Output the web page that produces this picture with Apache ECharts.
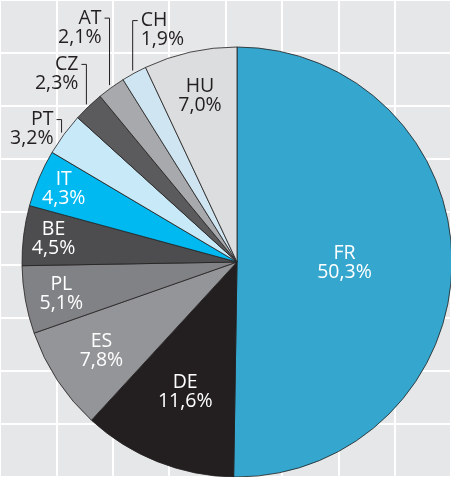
<!DOCTYPE html>
<html>
<head>
<meta charset="utf-8">
<script src="https://cdn.jsdelivr.net/npm/echarts@6/dist/echarts.min.js"></script>
<style>
  html, body { margin: 0; padding: 0; background: #e6e7e8; }
  #chart { width: 451px; height: 477px; }
</style>
</head>
<body>
<div id="chart"></div>
<script>
// Country shares, clockwise from 12 o'clock
const countries = ['FR', 'DE', 'ES', 'PL', 'BE', 'IT', 'PT', 'CZ', 'AT', 'CH', 'HU'];
const shares = [50.3, 11.6, 7.8, 5.1, 4.5, 4.3, 3.2, 2.3, 2.1, 1.9, 7.0];
const sliceColors = ['#35a7ce', '#231f20', '#939598', '#808285', '#4d4d4f', '#00b9f0',
                     '#c8e9f8', '#5b5b5d', '#a8a9ac', '#cfe6f2', '#dcdddf'];

// Pie geometry (px)
const CENTER = [237, 262];
const RADIUS = 215;

// Inside labels: distance from centre as a fraction of the radius
const insideLabelRadius = { FR: 0.5, DE: 0.65, ES: 0.755, PL: 0.83, BE: 0.86, IT: 0.875, HU: 0.79 };
// Outside labels: bracket leader rise (px) and side of the text (-1 left, +1 right)
const outsideLeader = {
  PT: { rise: 13, side: -1 },
  CZ: { rise: 40, side: -1 },
  AT: { rise: 67, side: -1 },
  CH: { rise: 50, side: 1 }
};
const darkText = '#231f20';

const total = shares.reduce((a, b) => a + b, 0);
const midAngles = [];
let acc = 0;
shares.forEach(v => { midAngles.push((acc + v / 2) / total * 2 * Math.PI); acc += v; });
function polar(r, a) { return [CENTER[0] + r * Math.sin(a), CENTER[1] - r * Math.cos(a)]; }

const pieData = countries.map((name, i) => {
  const item = { name, value: shares[i], itemStyle: { color: sliceColors[i] } };
  if (outsideLeader[name]) {
    item.label = { position: 'outside', color: darkText };
    item.labelLine = { show: true };
  } else {
    item.label = { position: 'inside', color: name === 'HU' ? darkText : '#ffffff' };
    item.labelLine = { show: false };
  }
  return item;
});

const chart = echarts.init(document.getElementById('chart'), null, { renderer: 'canvas' });
chart.setOption({
  backgroundColor: '#e6e7e8',
  animation: false,
  grid: { left: 37 - 77.4, top: 8 - 76.8, width: 77.4 * 8, height: 76.8 * 9, containLabel: false },
  xAxis: {
    type: 'value', min: 0, max: 8, interval: 1,
    axisLine: { show: false }, axisTick: { show: false }, axisLabel: { show: false },
    splitLine: { show: true, lineStyle: { color: '#ffffff', width: 2 } }
  },
  yAxis: {
    type: 'value', min: 0, max: 9, interval: 1,
    axisLine: { show: false }, axisTick: { show: false }, axisLabel: { show: false },
    splitLine: { show: true, lineStyle: { color: '#ffffff', width: 2 } }
  },
  series: [{
    type: 'pie',
    center: CENTER,
    radius: RADIUS,
    startAngle: 90,
    clockwise: true,
    avoidLabelOverlap: false,
    silent: true,
    emphasis: { disabled: true, scale: false },
    itemStyle: { borderColor: '#231f20', borderWidth: 0.8 },
    label: {
      show: true,
      fontFamily: 'Open Sans',
      fontSize: 19.5,
      lineHeight: 19,
      formatter: p => p.name + '\n' + p.value.toFixed(1).replace('.', ',') + '%'
    },
    labelLine: { lineStyle: { color: darkText, width: 1 }, length: 5, length2: 5 },
    labelLayout: function (p) {
      const i = p.dataIndex;
      const name = countries[i];
      const a = midAngles[i];
      if (insideLabelRadius[name] !== undefined) {
        const pt = polar(insideLabelRadius[name] * RADIUS, a);
        return { x: pt[0], y: pt[1], align: 'center', verticalAlign: 'middle' };
      }
      const lead = outsideLeader[name];
      const p0 = polar(RADIUS + 3, a);
      const y1 = p0[1] - lead.rise;
      const x1 = p0[0] + lead.side * 5;
      return {
        x: x1 + lead.side * 3,
        y: y1 - 9.5,
        align: lead.side < 0 ? 'right' : 'left',
        verticalAlign: 'top',
        labelLinePoints: [[p0[0], p0[1]], [p0[0], y1], [x1, y1]]
      };
    },
    data: pieData
  }]
});
</script>
</body>
</html>
